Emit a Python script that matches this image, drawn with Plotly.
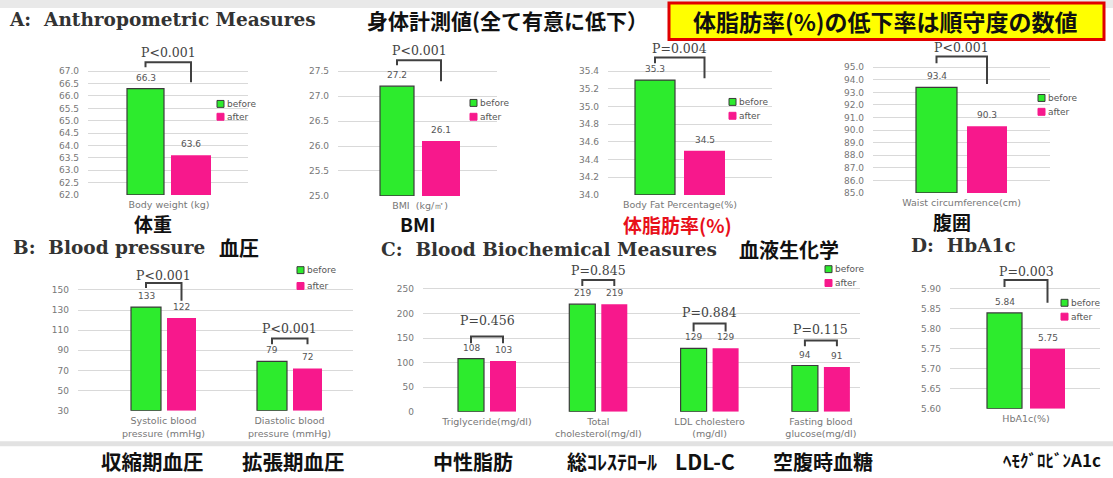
import plotly.graph_objects as go

W, H = 1113, 478
GREEN = "#2DEB2D"
PINK = "#F7188C"

# ---------------- data ----------------
weight_cats = ["Body weight (kg)"]
weight_before = [66.3]
weight_after = [63.6]
weight_ticks = [62.0, 62.5, 63.0, 63.5, 64.0, 64.5, 65.0, 65.5, 66.0, 66.5, 67.0]
weight_p = ["P<0.001"]

bmi_cats = ["BMI  (kg/㎡)"]
bmi_before = [27.2]
bmi_after = [26.1]
bmi_ticks = [25.0, 25.5, 26.0, 26.5, 27.0, 27.5]
bmi_p = ["P<0.001"]

fat_cats = ["Body Fat Percentage(%)"]
fat_before = [35.3]
fat_after = [34.5]
fat_ticks = [34.0, 34.2, 34.4, 34.6, 34.8, 35.0, 35.2, 35.4]
fat_p = ["P=0.004"]

waist_cats = ["Waist circumference(cm)"]
waist_before = [93.4]
waist_after = [90.3]
waist_ticks = [85.0, 86.0, 87.0, 88.0, 89.0, 90.0, 91.0, 92.0, 93.0, 94.0, 95.0]
waist_p = ["P<0.001"]

bp_cats = ["Systolic blood<br>pressure (mmHg)", "Diastolic blood<br>pressure (mmHg)"]
bp_before = [133, 79]
bp_after = [122, 72]
bp_ticks = [30, 50, 70, 90, 110, 130, 150]
bp_p = ["P<0.001", "P<0.001"]

chem_cats = ["Triglyceride(mg/dl)", "Total<br>cholesterol(mg/dl)",
             "LDL cholestero<br>(mg/dl)", "Fasting blood<br>glucose(mg/dl)"]
chem_before = [108, 219, 129, 94]
chem_after = [103, 219, 129, 91]
chem_ticks = [0, 50, 100, 150, 200, 250]
chem_p = ["P=0.456", "P=0.845", "P=0.884", "P=0.115"]

hba_cats = ["HbA1c(%)"]
hba_before = [5.84]
hba_after = [5.75]
hba_ticks = [5.60, 5.65, 5.70, 5.75, 5.80, 5.85, 5.90]
hba_p = ["P=0.003"]

series_names = ["before", "after"]

# ------------- layout geometry (pixels) -------------
panels = [
    dict(cats=weight_cats, b=weight_before, a=weight_after, ticks=weight_ticks, p=weight_p, fmt=".1f",
         gx=(88, 248), yt=72, yb=197, top=36, g=(127, 164), pk=(171, 211), sp=None,
         br=[(63, 68, 83, 53)], leg=(217, 105, 118)),
    dict(cats=bmi_cats, b=bmi_before, a=bmi_after, ticks=bmi_ticks, p=bmi_p, fmt=".1f",
         gx=(338, 497), yt=72, yb=198, top=36, g=(380, 414), pk=(422, 460), sp=None,
         br=[(61, 66, 82, 51)], leg=(470, 104, 118)),
    dict(cats=fat_cats, b=fat_before, a=fat_after, ticks=fat_ticks, p=fat_p, fmt=".1f",
         gx=(608, 772), yt=72, yb=197, top=36, g=(635, 675), pk=(684, 725), sp=None,
         br=[(58, 64, 79, 49)], leg=(729, 103, 117)),
    dict(cats=waist_cats, b=waist_before, a=waist_after, ticks=waist_ticks, p=waist_p, fmt=".1f",
         gx=(873, 1050), yt=68, yb=195, top=36, g=(916, 957), pk=(967, 1007), sp=None,
         br=[(57, 64, 85, 48)], leg=(1038, 99, 113)),
    dict(cats=bp_cats, b=bp_before, a=bp_after, ticks=bp_ticks, p=bp_p, fmt="d",
         gx=(78, 353), yt=293, yb=415, top=266, g=(131, 161), pk=(167, 196), sp=126,
         br=[(286, 291, 304, 278), (342, 348, 348, 332)], leg=(297, 273, 289)),
    dict(cats=chem_cats, b=chem_before, a=chem_after, ticks=chem_ticks, p=chem_p, fmt="d",
         gx=(423, 860), yt=292, yb=416, top=266, g=(458, 484), pk=(490, 516), sp=111.3,
         br=[(340, 347, 347, 324), (283, 289, 289, 273), (327, 335, 335, 316), (344, 350, 350, 333)],
         leg=(825, 272, 286)),
    dict(cats=hba_cats, b=hba_before, a=hba_after, ticks=hba_ticks, p=hba_p, fmt=".2f",
         gx=(950, 1100), yt=292, yb=413, top=266, g=(987, 1022), pk=(1030, 1065), sp=None,
         br=[(283, 290, 306, 274)], leg=(1061, 306, 320)),
]

fig = go.Figure()
layout = dict(width=W, height=H, margin=dict(l=0, r=0, t=0, b=0),
              paper_bgcolor="white", plot_bgcolor="white", showlegend=False,
              font=dict(family="DejaVu Sans", color="#666"))
shapes = []
annotations = []

def paper_x(p):
    return p / W

def paper_y(p):
    return 1 - p / H

for i, P in enumerate(panels, start=1):
    xa = "x" if i == 1 else f"x{i}"
    ya = "y" if i == 1 else f"y{i}"
    xk = "xaxis" if i == 1 else f"xaxis{i}"
    yk = "yaxis" if i == 1 else f"yaxis{i}"
    v_lo, v_hi = P["ticks"][0], P["ticks"][-1]
    scale = (P["yb"] - P["yt"]) / (v_hi - v_lo)

    def to_val(p, v_lo=v_lo, scale=scale, yb=P["yb"]):
        return v_lo + (yb - p) / scale

    top_val = to_val(P["top"])
    gx0, gx1 = P["gx"]
    pc = (P["g"][0] + P["pk"][1]) / 2.0
    Wc = P["sp"] if P["sp"] else (gx1 - gx0)
    xr = [(gx0 - pc) / Wc, (gx1 - pc) / Wc]

    tick_text = [format(t, P["fmt"]) if P["fmt"] != "d" else str(int(t)) for t in P["ticks"]]
    layout[yk] = dict(domain=[paper_y(P["yb"]), paper_y(P["top"])], range=[v_lo, top_val],
                      tickvals=P["ticks"], ticktext=tick_text, showgrid=True, gridcolor="#d9d9d9",
                      gridwidth=1, zeroline=False, showline=False, anchor=xa, ticks="",
                      tickfont=dict(size=9, color="#777", family="DejaVu Sans"),
                      ticklabelstandoff=8, fixedrange=True)
    layout[xk] = dict(domain=[paper_x(gx0), paper_x(gx1)], range=xr, type="category",
                      categoryorder="array", categoryarray=P["cats"], showgrid=False,
                      zeroline=False, showline=False, anchor=ya, ticks="",
                      tickfont=dict(size=9.5, color="#777", family="DejaVu Sans"),
                      ticklabelstandoff=3, fixedrange=True)

    g_off = (P["g"][0] - pc) / Wc
    g_w = (P["g"][1] - P["g"][0]) / Wc
    p_off = (P["pk"][0] - pc) / Wc
    p_w = (P["pk"][1] - P["pk"][0]) / Wc

    # bars rise from the bottom of the (truncated) axis
    fig.add_trace(go.Bar(x=P["cats"], y=[v - v_lo for v in P["b"]], base=[v_lo] * len(P["cats"]),
                         name=series_names[0], offset=g_off, width=g_w,
                         marker=dict(color=GREEN, line=dict(color="#3a3a3a", width=1.2)),
                         xaxis=xa, yaxis=ya, hoverinfo="skip"))
    fig.add_trace(go.Bar(x=P["cats"], y=[v - v_lo for v in P["a"]], base=[v_lo] * len(P["cats"]),
                         name=series_names[1], offset=p_off, width=p_w,
                         marker=dict(color=PINK, line=dict(color=PINK, width=0)),
                         xaxis=xa, yaxis=ya, hoverinfo="skip"))

    for k in range(len(P["cats"])):
        gc = k + g_off + g_w / 2
        pcn = k + p_off + p_w / 2
        for xc, val in ((gc, P["b"][k]), (pcn, P["a"][k])):
            t = str(int(val)) if P["fmt"] == "d" else format(val, P["fmt"])
            annotations.append(dict(x=xc, y=val, xref=xa, yref=ya, text=t, showarrow=False,
                                    yanchor="bottom", yshift=4,
                                    font=dict(size=9, color="#555", family="DejaVu Sans")))
        btop, bl, brr, bt = P["br"][k]
        shapes.append(dict(type="path", xref=xa, yref=ya,
                           path=f"M {gc},{to_val(bl)} L {gc},{to_val(btop)} L {pcn},{to_val(btop)} L {pcn},{to_val(brr)}",
                           line=dict(color="#404040", width=2)))
        annotations.append(dict(x=(gc + pcn) / 2, y=to_val(bt), xref=xa, yref=ya, text=P["p"][k],
                                showarrow=False, yanchor="middle",
                                font=dict(size=12.5, color="#444", family="DejaVu Serif")))

    # legend swatches
    lx, lyb, lya = P["leg"]
    for ly, col, ln, nm in ((lyb, GREEN, "#3a3a3a", series_names[0]), (lya, PINK, PINK, series_names[1])):
        shapes.append(dict(type="rect", xref="paper", yref="paper",
                           x0=paper_x(lx), x1=paper_x(lx + 7), y0=paper_y(ly + 3.5), y1=paper_y(ly - 3.5),
                           fillcolor=col, line=dict(color=ln, width=1)))
        annotations.append(dict(x=paper_x(lx + 8), y=paper_y(ly), xref="paper", yref="paper",
                                text=nm, showarrow=False, xanchor="left", yanchor="middle",
                                font=dict(size=9, color="#555", family="DejaVu Sans")))

# background strips
shapes.insert(0, dict(type="rect", xref="paper", yref="paper", x0=0, x1=1,
                      y0=paper_y(8), y1=1, fillcolor="#e9e9e9", line=dict(width=0), layer="below"))
shapes.insert(0, dict(type="rect", xref="paper", yref="paper", x0=0, x1=1,
                      y0=paper_y(451), y1=paper_y(446), fillcolor="#e2e2e2", line=dict(width=0), layer="below"))
# yellow box
shapes.append(dict(type="rect", xref="paper", yref="paper", x0=paper_x(669), x1=paper_x(1104),
                   y0=paper_y(40), y1=paper_y(3), fillcolor="#ffff00", line=dict(color="#e00000", width=3),
                   layer="below"))

def txt(x, y, s, size, color="#111", family="Noto Sans CJK JP", anchor="center"):
    annotations.append(dict(x=paper_x(x), y=paper_y(y), xref="paper", yref="paper", text=s,
                            showarrow=False, xanchor=anchor, yanchor="middle",
                            font=dict(size=size, color=color, family=family)))

serif = "DejaVu Serif"
txt(7, 20, "<b>A:\u00a0 Anthropometric Measures</b>", 18.5, "#333", serif, "left")
txt(365, 20, "<b>身体計測値(全て有意に低下）</b>", 21, "#111", anchor="left")
txt(885, 21, "<b>体脂肪率(%)の低下率は順守度の数値</b>", 23, "#111")
txt(11, 250, "<b>B:\u00a0 Blood pressure</b>", 18.5, "#333", serif, "left")
txt(217, 250, "<b>血圧</b>", 20, "#111", anchor="left")
txt(379, 252, "<b>C:\u00a0 Blood Biochemical Measures</b>", 18.5, "#333", serif, "left")
txt(737, 252, "<b>血液生化学</b>", 20, "#111", anchor="left")
txt(909, 248, "<b>D:\u00a0 HbA1c</b>", 18.5, "#333", serif, "left")

txt(153, 226, "<b>体重</b>", 19)
txt(417, 226, "<b>BMI</b>", 19)
txt(677, 227, "<b>体脂肪率(%)</b>", 19, "#e8101a")
txt(952, 224, "<b>腹囲</b>", 19)

txt(152, 466, "<b>収縮期血圧</b>", 20.5)
txt(293, 466, "<b>拡張期血圧</b>", 20.5)
txt(473, 466, "<b>中性脂肪</b>", 20)
txt(612, 466, "<b>総ｺﾚｽﾃﾛｰﾙ</b>", 20)
txt(705, 466, "<b>LDL-C</b>", 21)
txt(823, 466, "<b>空腹時血糖</b>", 20)
txt(1052, 464, "<b>ﾍﾓｸﾞﾛﾋﾞﾝA1c</b>", 17)

layout["shapes"] = shapes
layout["annotations"] = annotations
fig.update_layout(**layout)
fig.write_html("out.html", config={"displayModeBar": False})
